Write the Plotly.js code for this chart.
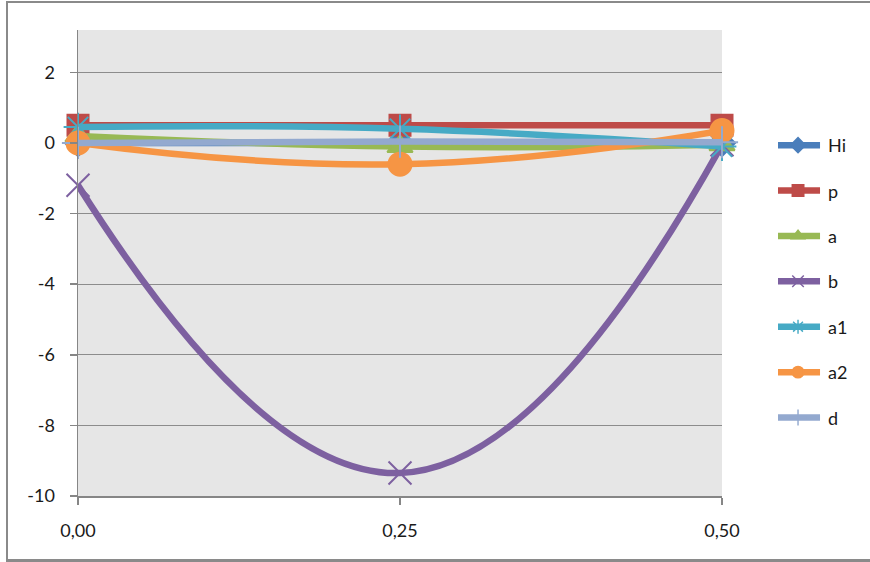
<!DOCTYPE html>
<html>
<head>
<meta charset="utf-8">
<script src="https://cdn.plot.ly/plotly-3.0.1.min.js"></script>
<style>
  html, body { margin: 0; padding: 0; background: #ffffff; }
  #frame {
    position: absolute; left: 6px; top: 1px; width: 880px; height: 556px;
    border-left: 2px solid #8a8a8a; border-top: 2px solid #8a8a8a; border-bottom: 3px solid #8a8a8a;
    pointer-events: none;
  }
  #chart { position: absolute; left: 0; top: 0; width: 870px; height: 562px; }
</style>
</head>
<body>
<div id="chart"></div>
<div id="frame"></div>
<script>
// x positions shared by every series
const xVals = [0, 0.25, 0.5];

// series values
const hiVals = [0, 0, 0];
const pVals = [0.5, 0.5, 0.5];
const aVals = [0.2, -0.1, -0.05];
const bVals = [-1.2, -9.35, -0.05];
const a1Vals = [0.45, 0.4, -0.1];
const a2Vals = [0, -0.6, 0.35];
const dVals = [0, 0.04, 0.02];

// axis ticks
const xTicks = [0, 0.25, 0.5];
const yTicks = [2, 0, -2, -4, -6, -8, -10];
const yTickText = ['2', '0', '-2', '-4', '-6', '-8', '-10'];

const seriesDefs = [
  { name: 'Hi', y: hiVals, color: '#4A7EBB', symbol: 'diamond', size: 20 },
  { name: 'p', y: pVals, color: '#BE4B48', symbol: 'square', size: 21 },
  { name: 'a', y: aVals, color: '#98B954', symbol: 'triangle-up', size: 22 },
  { name: 'b', y: bVals, color: '#7D60A0', symbol: 'x-thin-open', size: 23 },
  { name: 'a1', y: a1Vals, color: '#46AAC5', symbol: 'asterisk-open', size: 24 },
  { name: 'a2', y: a2Vals, color: '#F69544', symbol: 'circle', size: 23 },
  { name: 'd', y: dVals, color: '#93A9CF', symbol: 'cross-thin-open', size: 23 }
];

const traces = seriesDefs.map(s => ({
  type: 'scatter',
  mode: 'lines+markers',
  name: s.name,
  legendgroup: s.name,
  x: xVals,
  y: s.y,
  line: { color: s.color, width: 6.5, shape: 'spline', smoothing: 1.3 },
  marker: { color: s.color, symbol: s.symbol, size: s.size, line: { color: s.color, width: 2 } },
  cliponaxis: false
}));

const tickFont = { family: 'Lato, "Open Sans", sans-serif', size: 18, color: '#1a1a1a' };

const layout = {
  width: 870,
  height: 562,
  margin: { l: 78, r: 148, t: 30, b: 66 },
  paper_bgcolor: 'rgba(0,0,0,0)',
  plot_bgcolor: '#E6E6E6',
  separators: ',.',
  showlegend: true,
  legend: {
    x: 1.087, xanchor: 'left', y: 0.792, yanchor: 'top',
    font: tickFont,
    bgcolor: 'rgba(0,0,0,0)',
    tracegroupgap: 19,
    itemwidth: 40
  },
  xaxis: {
    range: [0, 0.5],
    tickvals: xTicks,
    tickformat: '.2f',
    showgrid: false,
    zeroline: false,
    showline: true,
    linecolor: '#868686',
    linewidth: 1.5,
    ticks: 'outside',
    ticklen: 7,
    tickcolor: '#868686',
    tickwidth: 1.5,
    ticklabelstandoff: 11,
    tickfont: tickFont
  },
  yaxis: {
    range: [-10, 3.2],
    tickvals: yTicks,
    ticktext: yTickText,
    showgrid: true,
    gridcolor: '#8c8c8c',
    gridwidth: 1.2,
    zeroline: false,
    showline: true,
    linecolor: '#868686',
    linewidth: 1.5,
    ticks: 'outside',
    ticklen: 7,
    tickcolor: '#868686',
    tickwidth: 1.5,
    ticklabelstandoff: 11,
    tickfont: tickFont
  }
};

Plotly.newPlot('chart', traces, layout, { displayModeBar: false, staticPlot: true }).then(gd => {
  // legend samples: longer, thicker lines and smaller markers
  gd.querySelectorAll('.legendlines path').forEach(p => {
    p.setAttribute('d', 'M-2,0h44');
    p.style.strokeWidth = '6.5px';
  });
  gd.querySelectorAll('.legendpoints path.scatterpts').forEach(p => {
    p.setAttribute('transform', 'translate(20,0) scale(0.72)');
  });
});
</script>
</body>
</html>
